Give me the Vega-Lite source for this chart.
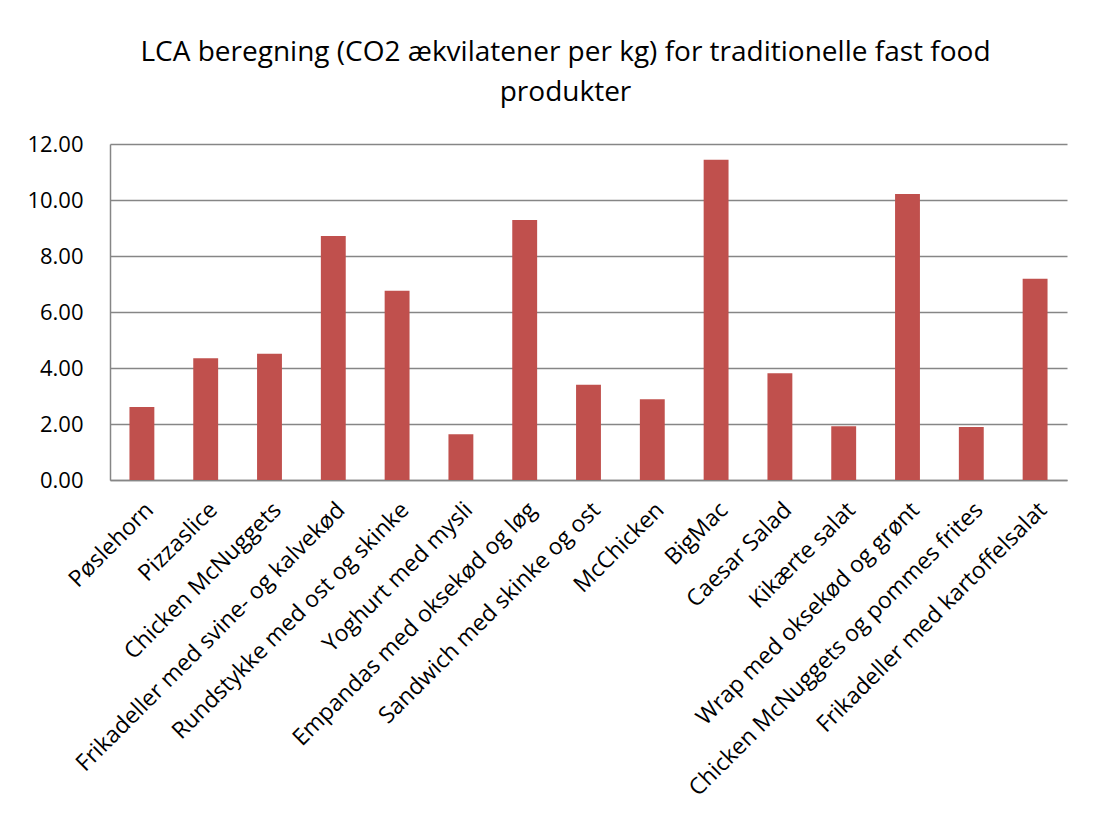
{
  "$schema": "https://vega.github.io/schema/vega-lite/v6.json",
  "autosize": "none",
  "width": 957,
  "height": 336,
  "padding": {"left": 110, "top": 144, "right": 43, "bottom": 337},
  "background": "white",
  "config": {"font": "Open Sans", "view": {"stroke": null}},
  "title": {
    "text": ["LCA beregning (CO2 ækvilatener per kg) for traditionelle fast food", "produkter"],
    "fontSize": 28,
    "fontWeight": "normal",
    "color": "#000000",
    "anchor": "middle",
    "dx": -23,
    "lineHeight": 40,
    "offset": 26
  },
  "data": {
    "values": [
      {"produkt": "Pøslehorn", "co2": 2.61},
      {"produkt": "Pizzaslice", "co2": 4.35},
      {"produkt": "Chicken McNuggets", "co2": 4.51},
      {"produkt": "Frikadeller med svine- og kalvekød", "co2": 8.71},
      {"produkt": "Rundstykke med ost og skinke", "co2": 6.76},
      {"produkt": "Yoghurt med mysli", "co2": 1.63},
      {"produkt": "Empandas med oksekød og løg", "co2": 9.29},
      {"produkt": "Sandwich med skinke og ost", "co2": 3.40},
      {"produkt": "McChicken", "co2": 2.88},
      {"produkt": "BigMac", "co2": 11.44},
      {"produkt": "Caesar Salad", "co2": 3.81},
      {"produkt": "Kikærte salat", "co2": 1.92},
      {"produkt": "Wrap med oksekød og grønt", "co2": 10.21},
      {"produkt": "Chicken McNuggets og pommes frites", "co2": 1.89},
      {"produkt": "Frikadeller med kartoffelsalat", "co2": 7.19}
    ]
  },
  "mark": {"type": "bar", "color": "#C0504D"},
  "encoding": {
    "x": {
      "field": "produkt",
      "type": "nominal",
      "sort": null,
      "scale": {"paddingInner": 0.61, "paddingOuter": 0.305},
      "axis": {
        "title": null,
        "labelAngle": -45,
        "labelAlign": "right",
        "labelBaseline": "middle",
        "labelFontSize": 23,
        "labelColor": "#000000",
        "labelPadding": 26,
        "labelOffset": 8,
        "labelLimit": 600,
        "labelOverlap": false,
        "ticks": false,
        "domainColor": "#868686",
        "domainWidth": 1.5
      }
    },
    "y": {
      "field": "co2",
      "type": "quantitative",
      "scale": {"domain": [0, 12]},
      "axis": {
        "title": null,
        "values": [0, 2, 4, 6, 8, 10, 12],
        "format": ".2f",
        "labelFontSize": 22,
        "labelColor": "#000000",
        "labelPadding": 27,
        "ticks": false,
        "grid": true,
        "gridColor": "#868686",
        "gridWidth": 1.5,
        "domainColor": "#868686",
        "domainWidth": 1.5
      }
    }
  }
}
